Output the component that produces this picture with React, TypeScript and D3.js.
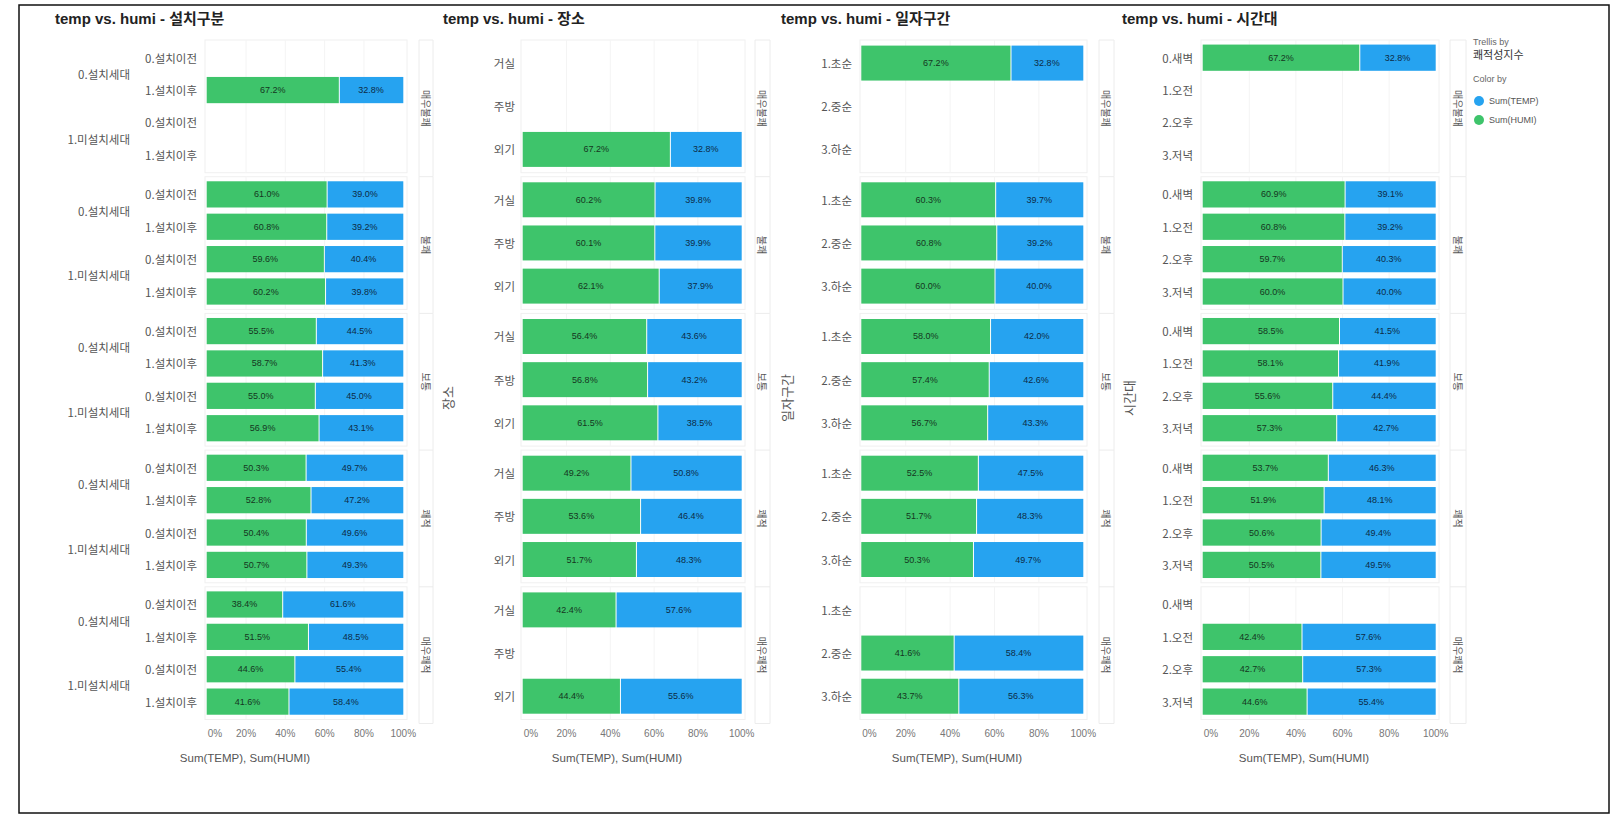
import React from "react";
import * as d3 from "d3";

// ---------- DATA ----------
const COMFORT = ["매우불쾌", "불쾌", "보통", "쾌적", "매우쾌적"];
const TICKS = [0, 20, 40, 60, 80, 100];

const P1_OUTER = ["0.설치세대", "0.설치세대", "1.미설치세대", "1.미설치세대"];
const P1_INNER = ["0.설치이전", "1.설치이후", "0.설치이전", "1.설치이후"];
const P1_HUMI = [
  [null, 67.2, null, null],
  [61.0, 60.8, 59.6, 60.2],
  [55.5, 58.7, 55.0, 56.9],
  [50.3, 52.8, 50.4, 50.7],
  [38.4, 51.5, 44.6, 41.6],
];
const P1_TEMP = [
  [null, 32.8, null, null],
  [39.0, 39.2, 40.4, 39.8],
  [44.5, 41.3, 45.0, 43.1],
  [49.7, 47.2, 49.6, 49.3],
  [61.6, 48.5, 55.4, 58.4],
];

const P2_CATS = ["거실", "주방", "외기"];
const P2_HUMI = [
  [null, null, 67.2],
  [60.2, 60.1, 62.1],
  [56.4, 56.8, 61.5],
  [49.2, 53.6, 51.7],
  [42.4, null, 44.4],
];
const P2_TEMP = [
  [null, null, 32.8],
  [39.8, 39.9, 37.9],
  [43.6, 43.2, 38.5],
  [50.8, 46.4, 48.3],
  [57.6, null, 55.6],
];

const P3_CATS = ["1.초순", "2.중순", "3.하순"];
const P3_HUMI = [
  [67.2, null, null],
  [60.3, 60.8, 60.0],
  [58.0, 57.4, 56.7],
  [52.5, 51.7, 50.3],
  [null, 41.6, 43.7],
];
const P3_TEMP = [
  [32.8, null, null],
  [39.7, 39.2, 40.0],
  [42.0, 42.6, 43.3],
  [47.5, 48.3, 49.7],
  [null, 58.4, 56.3],
];

const P4_CATS = ["0.새벽", "1.오전", "2.오후", "3.저녁"];
const P4_HUMI = [
  [67.2, null, null, null],
  [60.9, 60.8, 59.7, 60.0],
  [58.5, 58.1, 55.6, 57.3],
  [53.7, 51.9, 50.6, 50.5],
  [null, 42.4, 42.7, 44.6],
];
const P4_TEMP = [
  [32.8, null, null, null],
  [39.1, 39.2, 40.3, 40.0],
  [41.5, 41.9, 44.4, 42.7],
  [46.3, 48.1, 49.4, 49.5],
  [null, 57.6, 57.3, 55.4],
];

// ---------- STYLE / LAYOUT ----------
const GREEN = "#3ec46b";
const BLUE = "#26a3f0";
const FONT = "'Liberation Sans', Arial, 'Noto Sans CJK KR', sans-serif";
const KFONT = "'Noto Sans CJK KR', 'Liberation Sans', sans-serif";

const PLOT_TOP = 40;
const PANEL_H = 136.7;
const BAND_OFF = 1.5;
const BAND_LEN = 129.5;

type Chart = {
  title: string;
  cats: string[];
  outer?: string[];
  humi: (number | null)[][];
  temp: (number | null)[][];
  x0: number;
  x1: number;
  frameL: number;
  frameR: number;
  labelX: number;
  outerX?: number;
  stripL: number;
  stripR: number;
  titleX: number;
  axisTitle?: string;
  axisTitleX?: number;
  xTitleX: number;
};

const CHARTS: Chart[] = [
  {
    title: "temp vs. humi - 설치구분",
    cats: P1_INNER,
    outer: P1_OUTER,
    humi: P1_HUMI,
    temp: P1_TEMP,
    x0: 206.7,
    x1: 403.3,
    frameL: 205,
    frameR: 407,
    labelX: 197,
    outerX: 130,
    stripL: 419,
    stripR: 433,
    titleX: 55,
    xTitleX: 245,
  },
  {
    title: "temp vs. humi - 장소",
    cats: P2_CATS,
    humi: P2_HUMI,
    temp: P2_TEMP,
    x0: 522.7,
    x1: 741.7,
    frameL: 521,
    frameR: 745,
    labelX: 515,
    stripL: 755,
    stripR: 770,
    titleX: 443,
    axisTitle: "장소",
    axisTitleX: 447,
    xTitleX: 617,
  },
  {
    title: "temp vs. humi - 일자구간",
    cats: P3_CATS,
    humi: P3_HUMI,
    temp: P3_TEMP,
    x0: 861.3,
    x1: 1083.3,
    frameL: 860,
    frameR: 1087,
    labelX: 852,
    stripL: 1099,
    stripR: 1114,
    titleX: 781,
    axisTitle: "일자구간",
    axisTitleX: 786,
    xTitleX: 957,
  },
  {
    title: "temp vs. humi - 시간대",
    cats: P4_CATS,
    humi: P4_HUMI,
    temp: P4_TEMP,
    x0: 1202.7,
    x1: 1435.7,
    frameL: 1201,
    frameR: 1439,
    labelX: 1193,
    stripL: 1450,
    stripR: 1466,
    titleX: 1122,
    axisTitle: "시간대",
    axisTitleX: 1128,
    xTitleX: 1304,
  },
];

function TrellisChart({ c }: { c: Chart }) {
  const x = d3.scaleLinear().domain([0, 100]).range([c.x0, c.x1]);
  const panel = d3
    .scaleBand<string>()
    .domain(COMFORT)
    .range([PLOT_TOP, PLOT_TOP + PANEL_H * COMFORT.length]);
  const idx = c.cats.map((_, i) => String(i));
  const plotBottom = PLOT_TOP + PANEL_H * COMFORT.length;

  return (
    <g>
      <text
        x={c.titleX}
        y={18}
        dominantBaseline="central"
        fontFamily={FONT}
        fontWeight="bold"
        fontSize={15}
        fill="#222"
      >
        {c.title}
      </text>

      {COMFORT.map((cf, pi) => {
        const top = panel(cf)!;
        const y = d3
          .scaleBand<string>()
          .domain(idx)
          .range([top + BAND_OFF, top + BAND_OFF + BAND_LEN])
          .paddingInner(0.19)
          .paddingOuter(0.095);
        const step = y.step();
        return (
          <g key={cf}>
            <rect
              x={c.frameL}
              y={top}
              width={c.frameR - c.frameL}
              height={PANEL_H - 4}
              fill="none"
              stroke="#f0f0f0"
              strokeWidth={1}
            />
            {TICKS.slice(1, 5).map((t) => (
              <line
                key={t}
                x1={x(t)}
                x2={x(t)}
                y1={top}
                y2={top + PANEL_H - 4}
                stroke="#f4f4f4"
                strokeWidth={1}
              />
            ))}
            <line x1={c.stripL} x2={c.stripL} y1={top} y2={top + PANEL_H} stroke="#ececec" />
            <line x1={c.stripR} x2={c.stripR} y1={top} y2={top + PANEL_H} stroke="#ececec" />
            <line x1={c.stripL} x2={c.stripR} y1={top} y2={top} stroke="#ececec" />
            <text
              transform={`translate(${(c.stripL + c.stripR) / 2},${top + PANEL_H / 2}) rotate(90)`}
              textAnchor="middle"
              dominantBaseline="central"
              fontFamily={KFONT}
              fontSize={10}
              fill="#555"
            >
              {cf}
            </text>

            {c.cats.map((cat, i) => {
              const yy = y(String(i))!;
              const bh = y.bandwidth();
              const cy = yy + bh / 2;
              const h = c.humi[pi][i];
              const t = c.temp[pi][i];
              return (
                <g key={i}>
                  <text
                    x={c.labelX}
                    y={cy}
                    textAnchor="end"
                    dominantBaseline="central"
                    fontFamily={KFONT}
                    fontSize={11.5}
                    fill="#555"
                  >
                    {cat}
                  </text>
                  {h != null && t != null && (
                    <g>
                      <rect x={x(0)} y={yy} width={x(h) - x(0)} height={bh} fill={GREEN} />
                      <rect x={x(h) + 1} y={yy} width={x(100) - x(h) - 1} height={bh} fill={BLUE} />
                      <text
                        x={(x(0) + x(h)) / 2}
                        y={cy}
                        textAnchor="middle"
                        dominantBaseline="central"
                        fontFamily={FONT}
                        fontSize={9}
                        fill="#15361f"
                      >
                        {h.toFixed(1)}%
                      </text>
                      <text
                        x={(x(h) + x(100)) / 2}
                        y={cy}
                        textAnchor="middle"
                        dominantBaseline="central"
                        fontFamily={FONT}
                        fontSize={9}
                        fill="#0d2b45"
                      >
                        {t.toFixed(1)}%
                      </text>
                    </g>
                  )}
                </g>
              );
            })}

            {c.outer &&
              [0, 2].map((i) => (
                <text
                  key={i}
                  x={c.outerX}
                  y={y(String(i))! + step / 2 + y.bandwidth() / 2}
                  textAnchor="end"
                  dominantBaseline="central"
                  fontFamily={KFONT}
                  fontSize={11.5}
                  fill="#555"
                >
                  {c.outer![i]}
                </text>
              ))}
          </g>
        );
      })}
      <line x1={c.stripL} x2={c.stripR} y1={plotBottom} y2={plotBottom} stroke="#ececec" />

      {TICKS.map((t) => (
        <text
          key={t}
          x={t === 0 ? x(0) + 1 : x(t)}
          y={733}
          textAnchor={t === 0 ? "start" : "middle"}
          dominantBaseline="central"
          fontFamily={FONT}
          fontSize={10}
          fill="#777"
        >
          {t}%
        </text>
      ))}
      <text
        x={c.xTitleX}
        y={758}
        textAnchor="middle"
        dominantBaseline="central"
        fontFamily={FONT}
        fontSize={11.5}
        fill="#555"
      >
        Sum(TEMP), Sum(HUMI)
      </text>
      {c.axisTitle && (
        <text
          transform={`translate(${c.axisTitleX},398) rotate(-90)`}
          textAnchor="middle"
          dominantBaseline="central"
          fontFamily={KFONT}
          fontSize={13}
          fill="#555"
        >
          {c.axisTitle}
        </text>
      )}
    </g>
  );
}

export default function App() {
  return (
    <svg
      width={1618}
      height={816}
      style={{ position: "absolute", left: 0, top: 0, background: "#fff" }}
    >
      <rect x={0} y={0} width={1618} height={816} fill="#fff" />
      <rect x={19} y={5} width={1590} height={808} fill="none" stroke="#111" strokeWidth={1.5} />
      {CHARTS.map((c, i) => (
        <TrellisChart key={i} c={c} />
      ))}
      <text x={1473} y={42} fontFamily={FONT} fontSize={9} fill="#666" dominantBaseline="central">
        Trellis by
      </text>
      <text x={1473} y={54} fontFamily={KFONT} fontSize={11} fill="#333" dominantBaseline="central">
        쾌적성지수
      </text>
      <text x={1473} y={79} fontFamily={FONT} fontSize={9} fill="#666" dominantBaseline="central">
        Color by
      </text>
      <circle cx={1479} cy={101} r={5} fill={BLUE} />
      <text x={1489} y={101} fontFamily={FONT} fontSize={9} fill="#555" dominantBaseline="central">
        Sum(TEMP)
      </text>
      <circle cx={1479} cy={120} r={5} fill={GREEN} />
      <text x={1489} y={120} fontFamily={FONT} fontSize={9} fill="#555" dominantBaseline="central">
        Sum(HUMI)
      </text>
    </svg>
  );
}
